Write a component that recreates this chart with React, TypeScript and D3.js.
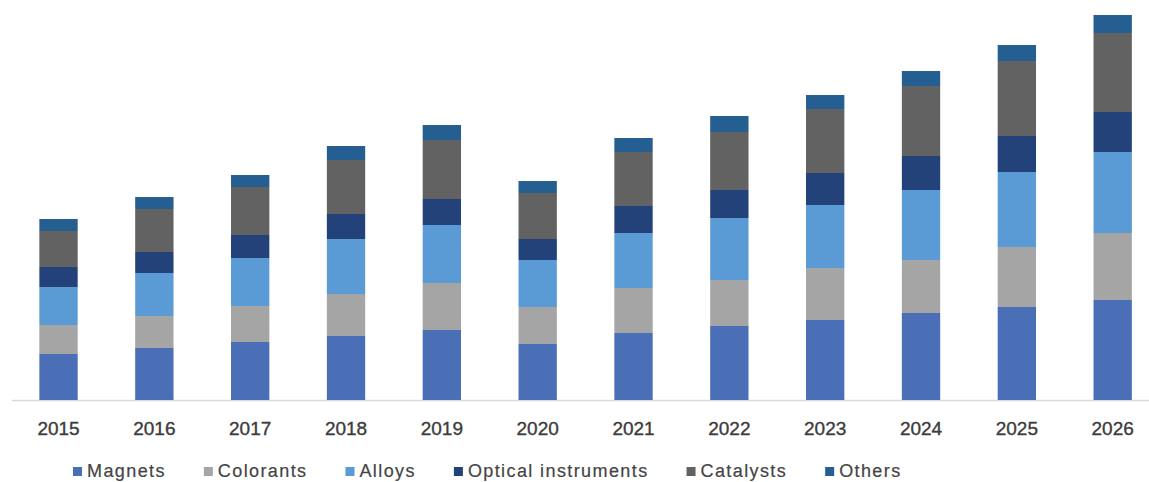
import React from "react";
import * as d3 from "d3";

const years = ["2015","2016","2017","2018","2019","2020","2021","2022","2023","2024","2025","2026"];
const seriesNames = ["Magnets","Colorants","Alloys","Optical instruments","Catalysts","Others"];
const magnets =   [46, 52, 58, 64, 70, 56, 67, 74, 80, 87, 93, 100];
const colorants = [29, 32, 36, 42, 47, 37, 45, 46, 52, 53, 60, 67];
const alloys =    [38, 43, 48, 55, 58, 47, 55, 62, 63, 70, 75, 81];
const optical =   [20, 21, 23, 25, 26, 21, 27, 28, 32, 34, 36, 40];
const catalysts = [36, 43, 48, 54, 59, 46, 54, 58, 64, 70, 75, 79];
const others =    [12, 12, 12, 14, 15, 12, 14, 16, 14, 15, 16, 18];
const colors = ["#4a6fb6", "#a5a5a5", "#5b9bd5", "#24427a", "#626262", "#255e91"];

const W = 1149;
const H = 482;
const FONT = "'Liberation Sans', Arial, sans-serif";

function measure(text: string, size: number, ls: number) {
  const c = document.createElement("canvas").getContext("2d");
  if (!c) return text.length * size * 0.5;
  c.font = `${size}px 'Liberation Sans', Arial, sans-serif`;
  return c.measureText(text).width + ls * text.length;
}

export default function App() {
  const allSeries = [magnets, colorants, alloys, optical, catalysts, others];
  const rows = years.map((y, i) => {
    const r: Record<string, number | string> = { year: y };
    seriesNames.forEach((s, k) => (r[s] = allSeries[k][i]));
    return r;
  });
  const stacked = d3.stack<any>().keys(seriesNames)(rows as any);

  const x = d3.scaleBand<string>().domain(years).range([10.6, 1160.6]).paddingInner(0.6).paddingOuter(0.3);
  const y = d3.scaleLinear().domain([0, 400]).range([400, 0]);

  // legend flow layout
  const legendSize = 18;
  const ls = 1.4;
  let cx = 73;
  const legendItems = seriesNames.map((name, i) => {
    const item = { name, color: colors[i], x: cx };
    cx += 9 + 5 + measure(name, legendSize, ls) + 38;
    return item;
  });

  return (
    <svg width={W} height={H} style={{ position: "absolute", left: 0, top: 0, background: "#fff" }} fontFamily={FONT}>
      <line x1={12} x2={W} y1={y(0) + 0.5} y2={y(0) + 0.5} stroke="#d9d9d9" strokeWidth={1.5} />
      {stacked.map((layer, k) => (
        <g key={layer.key} fill={colors[k]}>
          {layer.map((d, i) => (
            <rect
              key={years[i]}
              x={x(years[i])}
              width={x.bandwidth()}
              y={y(d[1])}
              height={y(d[0]) - y(d[1])}
            />
          ))}
        </g>
      ))}
      {years.map((yr) => (
        <text
          key={yr}
          x={(x(yr) as number) + x.bandwidth() / 2}
          y={435}
          textAnchor="middle"
          fontSize={19}
          fill="#3b3b3b"
          stroke="#3b3b3b"
          strokeWidth={0.35}
        >
          {yr}
        </text>
      ))}
      {legendItems.map((it) => (
        <g key={it.name}>
          <rect x={it.x} y={467} width={9} height={9} fill={it.color} />
          <text x={it.x + 14} y={477} fontSize={legendSize} letterSpacing={ls} fill="#444" stroke="#444" strokeWidth={0.2}>
            {it.name}
          </text>
        </g>
      ))}
    </svg>
  );
}
